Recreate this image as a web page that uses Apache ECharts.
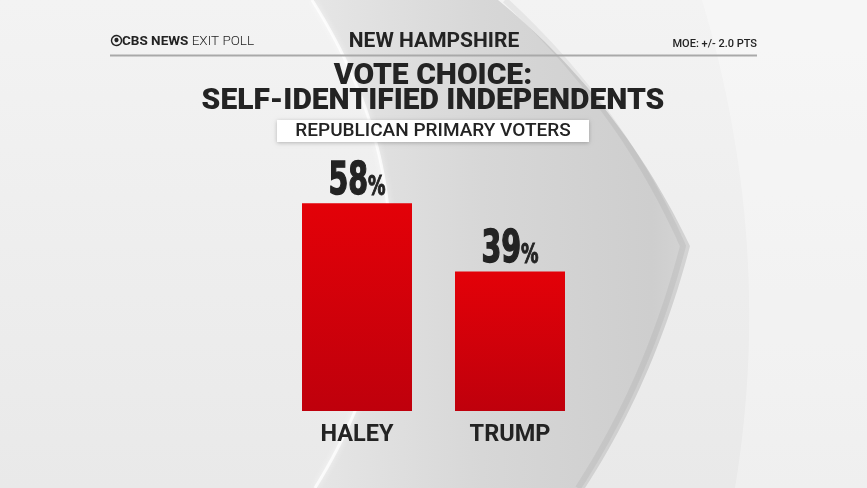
<!DOCTYPE html>
<html>
<head>
<meta charset="utf-8">
<script src="https://cdn.jsdelivr.net/npm/echarts@6/dist/echarts.min.js"></script>
<style>
html,body{margin:0;padding:0;background:#efefef;}
#c{width:867px;height:488px;}
</style>
</head>
<body>
<div id="c"></div>
<script>
const categories = ['HALEY', 'TRUMP'];
const values = [58, 39];
const headerCenter = 'NEW HAMPSHIRE';
const headerRight = 'MOE: +/- 2.0 PTS';
const titleLines = ['VOTE CHOICE:', 'SELF-IDENTIFIED INDEPENDENTS'];
const subtitle = 'REPUBLICAN PRIMARY VOTERS';

const chart = echarts.init(document.getElementById('c'));
const dark = '#232323';
const geo = 'Roboto, "Noto Sans", sans-serif';
const narrow = '"DejaVu Sans Condensed", "Liberation Sans Narrow", sans-serif';

// decorative background curve sampling (quadratic bezier)
function quad(p0, c, p1, n) {
  const pts = [];
  for (let i = 0; i <= n; i++) {
    const t = i / n, u = 1 - t;
    pts.push([u*u*p0[0] + 2*u*t*c[0] + t*t*p1[0], u*u*p0[1] + 2*u*t*c[1] + t*t*p1[1]]);
  }
  return pts;
}
const leftEdge = quad([312, 0], [466, 244], [315, 488], 50);
const rightEdge = quad([498, 0], [620, 100], [690, 246], 25).concat(quad([690, 246], [655, 380], [585, 488], 25).slice(1));
const innerRim = quad([505, 0], [622, 108], [683, 246], 25).concat(quad([683, 246], [648, 380], [578, 488], 25).slice(1));
const chevron = rightEdge.concat(leftEdge.slice().reverse());
const rightPanel = quad([702, 0], [775, 244], [735, 488], 30).concat([[867, 488], [867, 0]]);

chart.setOption({
  backgroundColor: '#eeeeee',
  graphic: [
    {type: 'rect', z: -30, silent: true, shape: {x: 0, y: 0, width: 867, height: 488},
      style: {fill: new echarts.graphic.LinearGradient(0, 0, 0, 1, [{offset: 0, color: '#f3f3f3'}, {offset: 1, color: '#e9e9e9'}])}},
    {
      type: 'polygon', z: -20, silent: true,
      shape: {points: chevron},
      style: {
        fill: new echarts.graphic.LinearGradient(0, 0, 1, 0, [
          {offset: 0, color: '#e6e6e6'}, {offset: 0.45, color: '#d7d7d7'}, {offset: 0.9, color: '#cecece'}, {offset: 1, color: '#d4d4d4'}
        ])
      }
    },
    {
      type: 'polyline', z: -19, silent: true,
      shape: {points: innerRim},
      style: {fill: null, stroke: 'rgba(0,0,0,0.05)', lineWidth: 6, shadowBlur: 8, shadowColor: 'rgba(0,0,0,0.08)'}
    },
    {
      type: 'polyline', z: -19, silent: true,
      shape: {points: leftEdge},
      style: {fill: null, stroke: 'rgba(255,255,255,0.75)', lineWidth: 3, shadowBlur: 6, shadowColor: 'rgba(255,255,255,0.9)'}
    },
    {
      type: 'polygon', z: -19, silent: true,
      shape: {points: rightPanel},
      style: {fill: 'rgba(255,255,255,0.3)'}
    },
    // header
    {type: 'text', left: 110, top: 35, z: 10, style: {text: '\u29bf', font: 'bold 13px ' + geo, fill: dark}},
    {type: 'text', left: 122, top: 35, z: 10, style: {text: '{a|CBS NEWS} {b|EXIT POLL}', rich: {a: {font: 'bold 13.5px ' + geo, fill: dark}, b: {font: '300 13.5px ' + geo, fill: dark}}}},
    {type: 'text', x: 434, y: 42, z: 10, style: {text: headerCenter, font: 'bold 21px ' + geo, fill: dark, align: 'center', verticalAlign: 'middle'}},
    {type: 'text', x: 757, y: 44, z: 10, style: {text: headerRight, font: '500 11px ' + geo, fill: dark, align: 'right', verticalAlign: 'middle'}},
    {type: 'rect', z: 10, shape: {x: 110, y: 54.5, width: 647, height: 2}, style: {fill: '#a9a9a9'}},
    // title
    {type: 'text', x: 433, y: 76, z: 10, style: {text: titleLines[0], font: '900 30px ' + geo, fill: dark, align: 'center', verticalAlign: 'middle'}},
    {type: 'text', x: 433, y: 101, z: 10, style: {text: titleLines[1], font: '900 30px ' + geo, fill: dark, align: 'center', verticalAlign: 'middle'}},
    // subtitle box
    {type: 'rect', z: 9, shape: {x: 277, y: 120, width: 312, height: 22}, style: {fill: '#ffffff', shadowBlur: 4, shadowColor: 'rgba(0,0,0,0.25)', shadowOffsetY: 1}},
    {type: 'text', x: 433, y: 131.5, z: 10, style: {text: subtitle, font: '500 19px ' + geo, fill: dark, align: 'center', verticalAlign: 'middle'}}
  ],
  grid: {left: 280.5, right: 280.5, top: 53, bottom: 77},
  xAxis: {
    type: 'category', data: categories,
    axisLine: {show: false}, axisTick: {show: false},
    axisLabel: {margin: 12, color: dark, fontFamily: geo, fontWeight: 'bold', fontSize: 23.5}
  },
  yAxis: {type: 'value', min: 0, max: 100, show: false, splitLine: {show: false}},
  series: [{
    type: 'bar', data: values, barWidth: 110,
    itemStyle: {
      color: new echarts.graphic.LinearGradient(0, 0, 0, 1, [
        {offset: 0, color: '#e30108'}, {offset: 1, color: '#bf000c'}
      ]),
      shadowBlur: 14, shadowColor: 'rgba(0,0,0,0.35)', shadowOffsetX: 7, shadowOffsetY: 5
    }
  }, {
    type: 'custom',
    data: values.map((v, i) => [i, v]),
    z: 5,
    renderItem: function (params, api) {
      const p = api.coord([api.value(0), api.value(1)]);
      return {
        type: 'group', x: p[0], y: p[1] + 1, scaleX: 0.72,
        children: [{
          type: 'text',
          style: {
            text: '{n|' + api.value(1) + '}{p|%}',
            align: 'center', verticalAlign: 'bottom',
            rich: {
              n: {fontFamily: narrow, fontWeight: 'bold', fontSize: 44, fill: dark, stroke: dark, lineWidth: 1.4, verticalAlign: 'bottom', lineHeight: 44},
              p: {fontFamily: narrow, fontWeight: 'bold', fontSize: 27, fill: dark, stroke: dark, lineWidth: 1, verticalAlign: 'bottom', lineHeight: 27, padding: [0, 0, 3, 0]}
            }
          }
        }]
      };
    }
  }]
});
</script>
</body>
</html>
